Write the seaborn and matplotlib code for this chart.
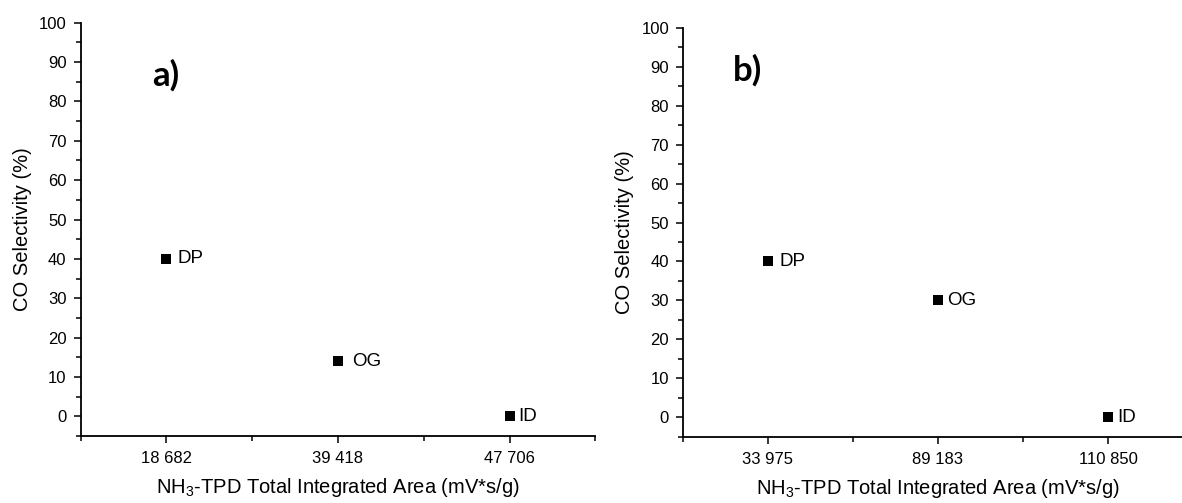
import matplotlib
matplotlib.use("Agg")
import matplotlib.pyplot as plt
from matplotlib.ticker import MultipleLocator, FixedLocator
import seaborn as sns
import pandas as pd

# ---- data ----
samples = ["DP", "OG", "ID"]
area_labels_a = ["18 682", "39 418", "47 706"]
selectivity_a = [40, 14, 0]
area_labels_b = ["33 975", "89 183", "110 850"]
selectivity_b = [40, 30, 0]
panel_tags = ["a)", "b)"]

sns.set_theme(style="ticks")
plt.rcParams["font.family"] = ["Liberation Sans", "DejaVu Sans"]
plt.rcParams["mathtext.default"] = "regular"

W, H = 1182, 503
fig = plt.figure(figsize=(W / 100, H / 100), dpi=100)
ax_a = fig.add_axes([80.5 / W, 1 - 436 / H, 515 / W, 413.3 / H])
ax_b = fig.add_axes([683 / W, 1 - 436.5 / H, 510 / W, 408.5 / H])

# label offsets (points) right of each marker
label_offsets = {0: [8, 10.5, 6.5], 1: [8.5, 6.5, 6.5]}
tag_pos = {0: (0.14, 86.6), 1: (0.098, 89.2)}

for i, (ax, labels, sel, tag) in enumerate(zip(
        [ax_a, ax_b], [area_labels_a, area_labels_b],
        [selectivity_a, selectivity_b], panel_tags)):
    df = pd.DataFrame({"pos": [1, 2, 3], "sel": sel, "sample": samples})
    sns.scatterplot(data=df, x="pos", y="sel", marker="s", color="black",
                    s=42, edgecolor="black", linewidth=0, ax=ax, zorder=3)
    for j, row in df.iterrows():
        ax.annotate(row["sample"], (row["pos"], row["sel"]),
                    xytext=(label_offsets[i][j], 0), textcoords="offset points",
                    ha="left", va="center", fontsize=13.5, color="black")
    ax.set_xlim(0.5, 3.5)
    ax.set_ylim(-5, 100)
    ax.xaxis.set_major_locator(FixedLocator([1, 2, 3]))
    ax.xaxis.set_minor_locator(FixedLocator([0.5, 1.5, 2.5, 3.5]))
    ax.set_xticklabels(labels)
    ax.set_yticks(range(0, 101, 10))
    ax.yaxis.set_minor_locator(MultipleLocator(5))
    ax.tick_params(axis="both", which="major", direction="out", length=5,
                   width=1.1, labelsize=12, color="black", labelcolor="black", pad=5)
    ax.tick_params(axis="both", which="minor", direction="out", length=3.5,
                   width=1.1, color="black")
    ax.tick_params(axis="x", which="major", pad=6)
    for s in ["top", "right"]:
        ax.spines[s].set_visible(False)
    for s in ["left", "bottom"]:
        ax.spines[s].set_color("black")
        ax.spines[s].set_linewidth(1.3)
    ax.set_xlabel(r"NH$_3$-TPD Total Integrated Area (mV*s/g)", fontsize=14.5,
                  color="black", labelpad=7)
    ax.set_ylabel("CO Selectivity (%)", fontsize=14.5, color="black", labelpad=5)
    tx, ty = tag_pos[i]
    ax.text(tx, ty, tag, transform=ax.get_yaxis_transform(),
            fontsize=25, fontweight="bold", family=["Lato", "DejaVu Sans"],
            ha="left", va="center", color="black")

fig.savefig("out.png", dpi=100)
